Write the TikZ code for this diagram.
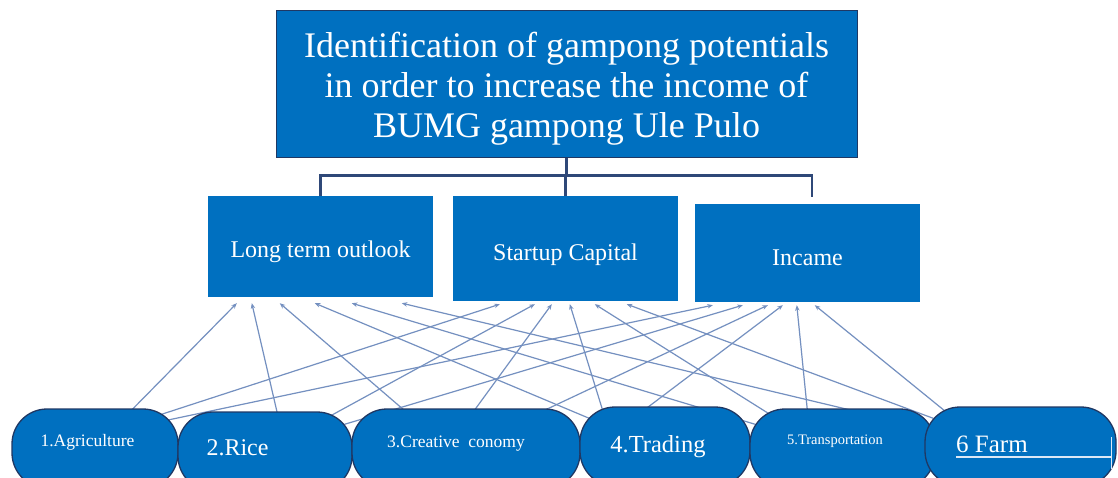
\documentclass[tikz,border=0pt]{standalone}
\usepackage{fontspec}
\setmainfont{Liberation Serif}
\usetikzlibrary{calc,arrows.meta,backgrounds}
\definecolor{boxblue}{RGB}{0,112,192}
\definecolor{navy}{RGB}{31,56,100}
\definecolor{treeline}{RGB}{47,72,120}
\definecolor{arrline}{RGB}{116,144,192}
\definecolor{uline}{RGB}{220,232,246}
\tikzset{
  bigbox/.style={draw=navy, line width=1pt, fill=boxblue, minimum width=581pt, minimum height=147pt, inner sep=0pt},
  midbox/.style={fill=boxblue, minimum width=225pt, inner sep=0pt},
  pill/.style={draw=navy, line width=1.3pt, fill=boxblue, rounded corners=35pt, minimum height=79pt, inner sep=0pt},
  lbl/.style={text=white, inner sep=0pt, anchor=base},
  tree/.style={draw=treeline, line width=2.5pt},
  link/.style={draw=arrline, line width=1.2pt, -{Stealth[length=5.5pt,width=4.5pt]}},
}
\begin{document}
\begin{tikzpicture}[x=1pt,y=-1pt]
\useasboundingbox (0,0) rectangle (1118,477);
\clip (0,0) rectangle (1118,477);
\begin{pgfonlayer}{background}
\fill[white] (0,0) rectangle (1118,477);
\end{pgfonlayer}

% top box
\node[bigbox] (top) at (566.5,83.5) {};
\node[lbl, anchor=center, align=center, font=\fontsize{36}{40}\selectfont] (toptext) at (566.5,89) {Identification of gampong potentials\\ in order to increase the income of\\ BUMG gampong Ule Pulo};

% middle boxes
\node[midbox, minimum height=101pt] (lt) at (320.5,246.5) {};
\node[lbl, font=\fontsize{24}{28}\selectfont] (ltt) at (320.5,257) {Long term outlook};
\node[midbox, minimum height=105pt] (sc) at (565.5,248.5) {};
\node[lbl, font=\fontsize{24}{28}\selectfont] (sct) at (565.5,260) {Startup Capital};
\node[midbox, minimum height=98pt] (in) at (807.5,253) {};
\node[lbl, font=\fontsize{24}{28}\selectfont] (int) at (807.5,265) {Incame};

% tree connector
\coordinate (hub) at ($(top.south)+(0,18)$);
\draw[tree] (top.south) -- (hub);
\draw[tree] (hub) -| (lt.north);
\draw[tree] (hub) -| (sc.north);
\draw[tree] (hub) -| ($(in.north)+(4.5,-7)$);

% bottom nodes
\node[pill, minimum width=166pt] (n1) at (95,448.5) {};
\node[lbl, font=\fontsize{17.5}{20}\selectfont] (t1) at (87.5,446) {1.Agriculture};
\node[pill, minimum width=174pt] (n2) at (265,451.5) {};
\node[lbl, font=\fontsize{24}{28}\selectfont] (t2) at (237.5,455) {2.Rice};
\node[pill, minimum width=228pt] (n3) at (466,448.5) {};
\node[lbl, font=\fontsize{17.5}{20}\selectfont] (t3) at (456,447) {3.Creative\ \ conomy};
\node[pill, minimum width=170pt] (n4) at (665,446.5) {};
\node[lbl, font=\fontsize{24.5}{28}\selectfont] (t4) at (658,452) {4.Trading};
\node[pill, minimum width=185pt] (n5) at (842.5,448.5) {};
\node[lbl, font=\fontsize{14.5}{17}\selectfont] (t5) at (835,444) {5.Transportation};
\node[pill, minimum width=191pt] (n6) at (1020.5,446.5) {};
\node[lbl, font=\fontsize{25}{28}\selectfont, anchor=base west] (t6) at (956,452) {6 Farm};
\draw[draw=uline, line width=1.8pt] ($(t6.base west)+(0,5)$) -- ($(t6.base west)+(155,5)$);
\draw[draw=uline, line width=1pt] ($(t6.base west)+(155,-15)$) -- ($(t6.base west)+(155,17)$);

% links
\begin{pgfonlayer}{background}
\foreach \s/\t/\sx/\sy/\tx/\ty in {
  n1/lt/120/2/29/6, n1/sc/150/6/47/3, n1/in/155/12/18/3,
  n2/lt/100/2/44/6, n2/sc/154/4/82/3, n2/in/167/13/48/3,
  n3/lt/53/2/72/6, n3/sc/123/2/99/3, n3/in/193/2/73/3,
  n4/lt/10/12/107/6, n4/sc/23/3/117/3, n4/in/67/2/88/3,
  n5/lt/6/16/144/6, n5/sc/19/5/142/3, n5/in/58/2/102/3,
  n6/lt/3/22/194/6, n6/sc/9/12/174/3, n6/in/21/5/120/3}
  \draw[link] ($(\s.north west)+(\sx,\sy)$) -- ($(\t.south west)+(\tx,\ty)$);
\end{pgfonlayer}
\end{tikzpicture}
\end{document}
